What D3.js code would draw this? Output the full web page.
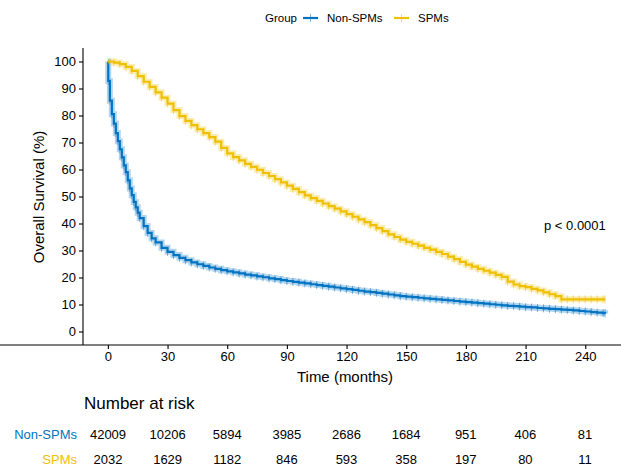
<!DOCTYPE html>
<html>
<head>
<meta charset="utf-8">
<script src="https://cdn.jsdelivr.net/npm/d3@7"></script>
<style>
  body { margin: 0; background: #fff; }
  svg { font-family: "Liberation Sans", Arial, sans-serif; }
</style>
</head>
<body>
<div id="chart"></div>
<script>
// survival curves (months, %)
var nonTime = [0, 0.2, 1, 2, 3, 4, 5, 6, 7, 8, 9, 10, 11, 12, 13, 14, 15, 16, 18, 20, 22, 24, 27, 30,
  33, 36, 39, 42, 45, 48, 51, 54, 57, 60, 63, 66, 69, 72, 75, 78, 81, 84, 87, 90, 93, 96, 99,
  102, 105, 108, 111, 114, 117, 120, 123, 126, 129, 132, 135, 138, 141, 144, 147, 150, 153,
  156, 159, 162, 165, 168, 171, 174, 177, 180, 183, 186, 189, 192, 195, 198, 201, 204, 207,
  210, 213, 216, 219, 222, 225, 228, 231, 234, 237, 240, 243, 246, 249, 250];
var nonSurv = [100, 92.8, 85.5, 80.5, 77, 73.5, 70.5, 67.5, 64.5, 61.5, 59, 56, 53, 50.5, 48, 46, 44, 42,
  39, 36.5, 34.5, 33, 31, 29.5, 28.3, 27.3, 26.4, 25.6, 24.9, 24.3, 23.7, 23.2, 22.7, 22.3,
  21.9, 21.5, 21.1, 20.8, 20.4, 20.1, 19.7, 19.4, 19, 18.7, 18.4, 18.1, 17.8, 17.5, 17.2,
  16.9, 16.6, 16.3, 16, 15.7, 15.4, 15.1, 14.8, 14.6, 14.3, 14, 13.7, 13.4, 13.1, 12.9,
  12.7, 12.5, 12.3, 12.1, 11.9, 11.7, 11.5, 11.3, 11.1, 10.9, 10.7, 10.5, 10.3, 10.1, 9.9,
  9.7, 9.5, 9.4, 9.2, 9, 8.9, 8.7, 8.6, 8.4, 8.3, 8.1, 8, 7.8, 7.6, 7.4, 7.2, 7, 6.8, 6.7];

var spmTime = [0, 3, 6, 9, 12, 15, 18, 21, 24, 27, 30, 33, 36, 39, 42, 45, 48, 51, 54, 57, 60, 63,
  66, 69, 72, 75, 78, 81, 84, 87, 90, 93, 96, 99, 102, 105, 108, 111, 114, 117, 120, 123,
  126, 129, 132, 135, 138, 141, 144, 147, 150, 153, 156, 159, 162, 165, 168, 171, 174, 177,
  180, 183, 186, 189, 192, 195, 198, 201, 204, 207, 210, 213, 216, 219, 222, 225, 228, 231,
  234, 237, 240, 243, 246, 249, 250];
var spmSurv = [100, 99.6, 99, 98, 96.5, 94.6, 92.5, 90.6, 88.6, 86.6, 84.4, 82, 79.8, 78, 76.4, 74.9,
  73.5, 72, 70.3, 68, 66, 64.6, 63.4, 62.1, 61, 59.9, 58.7, 57.6, 56.4, 55.2, 54, 52.8,
  51.6, 50.4, 49.4, 48.4, 47.4, 46.4, 45.5, 44.5, 43.5, 42.5, 41.5, 40.5, 39.4, 38.3, 37.2,
  36, 35, 34, 33.2, 32.5, 31.8, 31, 30.3, 29.5, 28.7, 27.7, 26.8, 25.8, 24.8, 24, 23.2,
  22.5, 21.8, 21, 20.2, 18.5, 17.4, 16.8, 16.4, 15.8, 15.2, 14.5, 13.8, 13.1, 11.9, 11.9,
  11.9, 11.9, 11.9, 11.9, 11.9, 11.9, 11.9];

var groups = ["Non-SPMs", "SPMs"];
var colors = ["#0073C2", "#EFC000"];
var xTicks = [0, 30, 60, 90, 120, 150, 180, 210, 240];
var yTicks = [0, 10, 20, 30, 40, 50, 60, 70, 80, 90, 100];
var riskNon = [42009, 10206, 5894, 3985, 2686, 1684, 951, 406, 81];
var riskSpm = [2032, 1629, 1182, 846, 593, 358, 197, 80, 11];
var pText = "p < 0.0001";

var W = 621, H = 468;
var svg = d3.select("#chart").append("svg")
    .attr("width", W)
    .attr("height", H);

var x = d3.scaleLinear().domain([-12.5, 262.5]).range([83, 630]);
var y = d3.scaleLinear().domain([-5, 105]).range([345, 48]);

// axes
var xAxis = svg.append("g")
    .attr("transform", "translate(0," + 345 + ")")
    .call(d3.axisBottom(x).tickValues(xTicks).tickSize(4).tickPadding(3));
var yAxis = svg.append("g")
    .attr("transform", "translate(" + 83 + ",0)")
    .call(d3.axisLeft(y).tickValues(yTicks).tickSize(4).tickPadding(3));
[xAxis, yAxis].forEach(function(a) {
    a.select(".domain").attr("stroke", "#000").attr("stroke-width", 1.1);
    a.selectAll(".tick line").attr("stroke", "#000").attr("stroke-width", 1.1);
    a.selectAll(".tick text").attr("fill", "#000").style("font-size", "13px");
});
// full extents of the axis lines
xAxis.select(".domain").attr("d", "M0,0H" + W);
yAxis.select(".domain").attr("d", "M0," + y(-5) + "V" + y(105));

svg.append("text")
    .attr("x", 345).attr("y", 382)
    .attr("text-anchor", "middle")
    .style("font-size", "15px")
    .text("Time (months)");
svg.append("text")
    .attr("transform", "translate(44," + 197 + ") rotate(-90)")
    .attr("text-anchor", "middle")
    .style("font-size", "15px")
    .text("Overall Survival (%)");

// curves
var line = d3.line()
    .x(function(d) { return x(d[0]); })
    .y(function(d) { return y(d[1]); })
    .curve(d3.curveStepAfter);

var series = [d3.zip(nonTime, nonSurv), d3.zip(spmTime, spmSurv)];

series.forEach(function(pts, i) {
    var g = svg.append("g").attr("class", "curve");
    // confidence band look
    g.append("path")
        .attr("d", line(pts))
        .attr("fill", "none")
        .attr("stroke", colors[i])
        .attr("stroke-opacity", 0.3)
        .attr("stroke-width", 6);
    // censor ticks
    g.selectAll("line.cens")
        .data(pts.slice(1))
        .enter().append("line")
        .attr("class", "cens")
        .attr("x1", function(d) { return x(d[0]); })
        .attr("x2", function(d) { return x(d[0]); })
        .attr("y1", function(d) { return y(d[1]) - 4; })
        .attr("y2", function(d) { return y(d[1]) + 4; })
        .attr("stroke", colors[i])
        .attr("stroke-opacity", 0.5)
        .attr("stroke-width", 1);
    g.append("path")
        .attr("d", line(pts))
        .attr("fill", "none")
        .attr("stroke", colors[i])
        .attr("stroke-width", 2.2);
});

svg.append("text")
    .attr("x", 544).attr("y", 230)
    .style("font-size", "13px")
    .text(pText);

// legend
var leg = svg.append("g").style("font-size", "11.5px");
leg.append("text").attr("x", 265).attr("y", 22).text("Group");
var legX = [303, 394];
groups.forEach(function(gname, i) {
    leg.append("line")
        .attr("x1", legX[i]).attr("x2", legX[i] + 15)
        .attr("y1", 18).attr("y2", 18)
        .attr("stroke", colors[i]).attr("stroke-width", 2.2);
    leg.append("line")
        .attr("x1", legX[i] + 7.5).attr("x2", legX[i] + 7.5)
        .attr("y1", 14).attr("y2", 22)
        .attr("stroke", colors[i]).attr("stroke-opacity", 0.5);
    leg.append("text").attr("x", legX[i] + 24).attr("y", 22).text(gname);
});

// risk table
var tx = d3.scaleLinear().domain([0, 240]).range([108, 585]);
svg.append("text")
    .attr("x", 84).attr("y", 409)
    .style("font-size", "17px")
    .text("Number at risk");

var rows = [riskNon, riskSpm];
var rowY = [439, 464];
rows.forEach(function(vals, i) {
    svg.append("text")
        .attr("x", 77).attr("y", rowY[i])
        .attr("text-anchor", "end")
        .attr("fill", colors[i])
        .style("font-size", "13px")
        .text(groups[i]);
    svg.selectAll("text.r" + i)
        .data(vals)
        .enter().append("text")
        .attr("class", "r" + i)
        .attr("x", function(d, j) { return tx(xTicks[j]); })
        .attr("y", rowY[i])
        .attr("text-anchor", "middle")
        .style("font-size", "13px")
        .text(function(d) { return d; });
});
</script>
</body>
</html>
